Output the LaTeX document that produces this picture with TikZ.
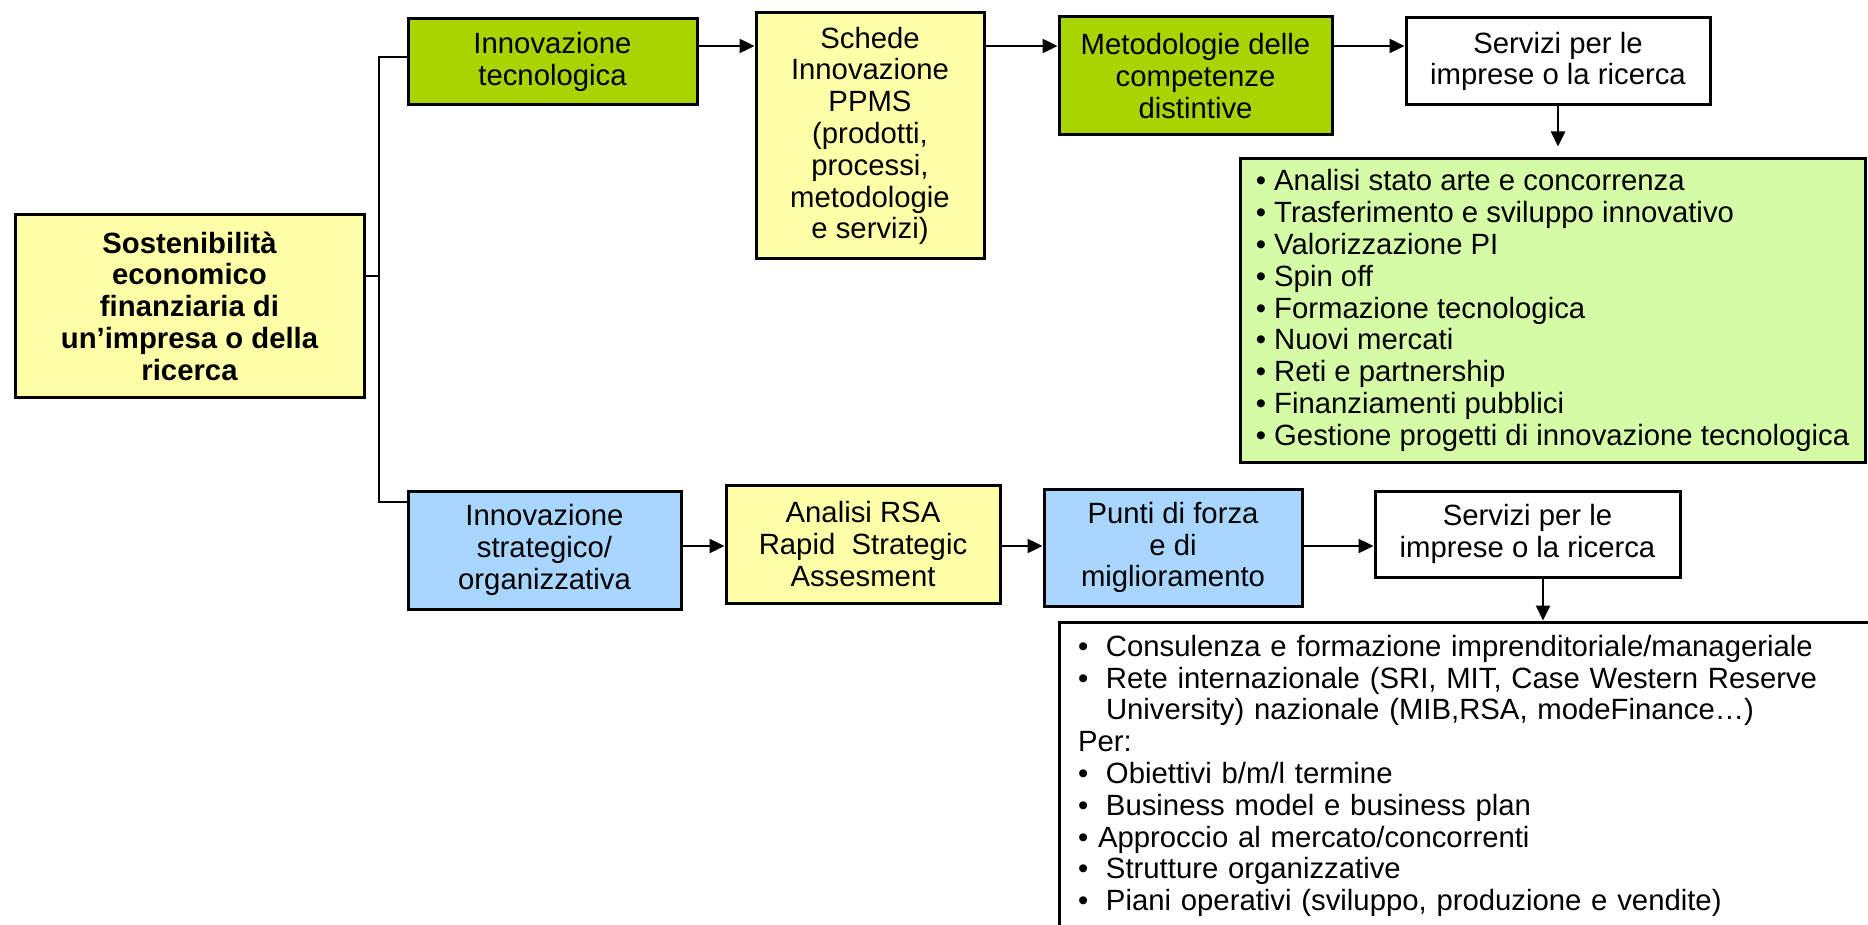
\documentclass[tikz,border=0pt]{standalone}
\usepackage{fontspec}
\setmainfont{Liberation Sans}
\usetikzlibrary{arrows.meta}
\newcommand\diagfont{\fontsize{29.3pt}{31.8pt}\selectfont}
\definecolor{cyellow}{HTML}{FFFFA8}
\definecolor{cgreen}{HTML}{AAD400}
\definecolor{clgreen}{HTML}{D5FBA6}
\definecolor{cblue}{HTML}{A8D6FF}
\begin{document}
\begin{tikzpicture}[x=1pt,y=-1pt,
  box/.style={draw=black, line width=3pt, inner sep=0pt, align=center, font=\diagfont},
  listbox/.style={draw=black, line width=3pt, inner sep=0pt, align=left, font=\diagfont},
  conn/.style={draw=black, line width=2.4pt},
  arr/.style={conn, -{Triangle[length=15pt,width=14pt]}}]
\useasboundingbox (0,0) rectangle (1868,925);
\fill[white] (0,0) rectangle (1868,925);
\begin{scope}
\clip (0,0) rectangle (1868,925);
% nodes
\node[box, fill=cyellow, minimum width=349pt, minimum height=182pt, font=\diagfont\bfseries] (main) at (189.5,306)
  {Sostenibilità\\economico\\finanziaria di\\un’impresa o della\\ricerca};
\node[box, fill=cgreen, minimum width=289pt, minimum height=86pt] (g1) at (552.5,62)
  {Innovazione\\tecnologica};
\node[box, fill=cyellow, minimum width=228pt, minimum height=246pt] (schede) at (870,136)
  {Schede\\Innovazione\\PPMS\\(prodotti,\\processi,\\metodologie\\e servizi)};
\node[box, fill=cgreen, minimum width=273pt, minimum height=118pt] (meto) at (1195.5,76)
  {Metodologie delle\\competenze\\distintive};
\node[box, fill=white, minimum width=304pt, minimum height=87pt] (serv1) at (1558,61.5)
  {Servizi per le\\imprese o la ricerca};
\node[listbox, fill=clgreen, minimum width=625pt, minimum height=303pt] (list1) at (1552.5,310.5)
  {• Analisi stato arte e concorrenza\\
   • Trasferimento e sviluppo innovativo\\
   • Valorizzazione PI\\
   • Spin off\\
   • Formazione tecnologica\\
   • Nuovi mercati\\
   • Reti e partnership\\
   • Finanziamenti pubblici\\
   • Gestione progetti di innovazione tecnologica};
\node[box, fill=cblue, minimum width=273pt, minimum height=118pt] (b1) at (544.5,550)
  {Innovazione\\strategico/\\organizzativa};
\node[box, fill=cyellow, minimum width=274pt, minimum height=118pt] (rsa) at (863,544)
  {Analisi RSA\\Rapid\ \ Strategic\\Assesment};
\node[box, fill=cblue, minimum width=258pt, minimum height=117pt] (punti) at (1173,547.5)
  {Punti di forza\\e di\\miglioramento};
\node[box, fill=white, minimum width=305pt, minimum height=86pt] (serv2) at (1527.5,534)
  {Servizi per le\\imprese o la ricerca};
\node[listbox, fill=white, minimum width=821pt, minimum height=308pt, inner xsep=19pt, text width=783pt] (list2) at (1469.5,776)
  {\makebox[28pt][l]{•}Consulenza e formazione imprenditoriale/manageriale\\
   \makebox[28pt][l]{•}Rete internazionale (SRI, MIT, Case Western Reserve\\
   \hspace*{28pt}University) nazionale (MIB,RSA, modeFinance…)\\
   Per:\\
   \makebox[28pt][l]{•}Obiettivi b/m/l termine\\
   \makebox[28pt][l]{•}Business model e business plan\\
   • Approccio al mercato/concorrenti\\
   \makebox[28pt][l]{•}Strutture organizzative\\
   \makebox[28pt][l]{•}Piani operativi (sviluppo, produzione e vendite)};
% connectors
\coordinate (jt) at (379,57);
\coordinate (jb) at (379,502);
\coordinate (jm) at (379,276);
\coordinate (r1) at (0,46);
\coordinate (r2) at (0,546);
\draw[conn] (g1.west |- jt) -- (jt) -- (jb) -- (b1.west |- jb);
\draw[conn] (main.east |- jm) -- (jm);
\draw[arr] (g1.east |- r1) -- (schede.west |- r1);
\draw[arr] (schede.east |- r1) -- (meto.west |- r1);
\draw[arr] (meto.east |- r1) -- (serv1.west |- r1);
\draw[arr, shorten >=11pt] (serv1.south) -- (serv1.south |- list1.north);
\draw[arr] (b1.east |- r2) -- (rsa.west |- r2);
\draw[arr] (rsa.east |- r2) -- (punti.west |- r2);
\draw[arr] (punti.east |- r2) -- (serv2.west |- r2);
\draw[arr] ([xshift=15.5pt]serv2.south) -- ([xshift=15.5pt]serv2.south |- list2.north);
\end{scope}
\end{tikzpicture}
\end{document}
